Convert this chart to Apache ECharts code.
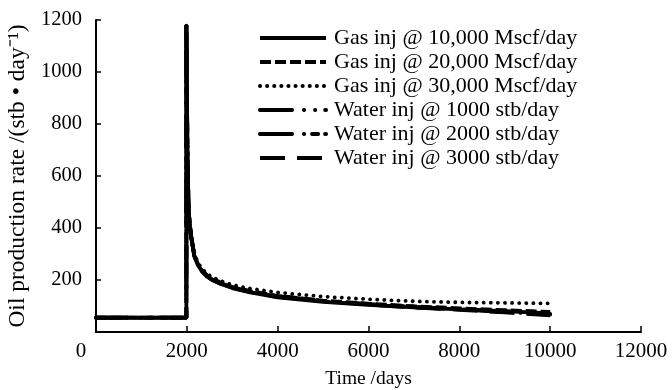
<!DOCTYPE html>
<html>
<head>
<meta charset="utf-8">
<script src="https://cdn.jsdelivr.net/npm/echarts@6/dist/echarts.min.js"></script>
<style>html,body{margin:0;padding:0;background:#fff;}#c{width:672px;height:390px;}</style>
</head>
<body>
<div id="c"></div>
<script>
var days = [0, 1990, 1990, 2002, 2020, 2045, 2090, 2165, 2240, 2340, 2440, 2560, 2720, 3000, 3400, 4000, 5000, 6000, 7000, 8000, 9000, 10000];
var gas10000 = [55, 55, 1180, 900, 600, 450, 370, 292, 258, 232, 214, 200, 187, 169, 152, 133, 116, 104, 95, 87, 80, 72];
var gas20000 = [55, 55, 1180, 905, 605, 455, 375, 297, 263, 237, 219, 205, 192, 173, 157, 139, 121, 109, 99, 91, 84, 77];
var gas30000 = [55, 55, 1180, 910, 610, 460, 380, 302, 268, 242, 225, 211, 198, 181, 167, 152, 136, 126, 118, 114, 112, 110];
var water1000 = [55, 55, 1180, 900, 602, 452, 372, 293, 259, 233, 215, 201, 188, 171, 154, 136, 119, 107, 97, 88, 79, 70];
var water2000 = [55, 55, 1180, 902, 603, 453, 373, 294, 260, 234, 216, 202, 189, 172, 155, 137, 120, 106, 96, 87, 77, 67];
var water3000 = [55, 55, 1180, 901, 601, 451, 371, 292, 258, 232, 214, 200, 187, 170, 153, 135, 118, 105, 94, 85, 75, 64];
var seriesNames = ['Gas inj @ 10,000 Mscf/day', 'Gas inj @ 20,000 Mscf/day', 'Gas inj @ 30,000 Mscf/day',
  'Water inj @ 1000 stb/day', 'Water inj @ 2000 stb/day', 'Water inj @ 3000 stb/day'];
var xTicks = [0, 2000, 4000, 6000, 8000, 10000, 12000];
var yTicks = [0, 200, 400, 600, 800, 1000, 1200];

function pairs(vals) { return days.map(function (d, i) { return [d, vals[i]]; }); }
var dashes = ['solid', [11, 4], [0.1, 7], [32, 12, 0.1, 11, 0.1, 10], [32, 12, 0.1, 8, 6, 7], [25, 12]];
var caps = ['butt', 'butt', 'round', 'round', 'round', 'butt'];
var widths = [3.8, 3.8, 3.8, 3.8, 3.8, 3.6];
var allVals = [gas10000, gas20000, gas30000, water1000, water2000, water3000];

var font = '"Liberation Serif", "Times New Roman", serif';
var chart = echarts.init(document.getElementById('c'), null, { renderer: 'canvas' });
chart.setOption({
  animation: false,
  backgroundColor: '#fff',
  textStyle: { fontFamily: font, color: '#000' },
  grid: { left: 96, right: 31, top: 20, bottom: 58, containLabel: false, outerBoundsMode: 'none' },
  legend: {
    orient: 'vertical', left: 258, top: 27, padding: 0,
    itemWidth: 66, itemHeight: 14, itemGap: 2, itemStyle: { opacity: 0 },
    lineStyle: { width: 4 },
    textStyle: { fontFamily: font, fontSize: 22, lineHeight: 20, color: '#000', padding: [0, 0, 0, 3] },
    data: seriesNames
  },
  xAxis: {
    type: 'value', min: xTicks[0], max: xTicks[xTicks.length - 1], interval: 2000,
    name: 'Time /days', nameLocation: 'middle', nameGap: 37,
    nameTextStyle: { fontFamily: font, fontSize: 19.5, color: '#000' },
    axisLine: { lineStyle: { color: '#000', width: 2 } },
    axisTick: { inside: true, length: 6, lineStyle: { color: '#000', width: 1.5 } },
    splitLine: { show: false },
    axisLabel: {
      margin: 9, fontFamily: font, fontSize: 21, color: '#000',
      formatter: function (v) { return v === 0 ? '{z|0}' : String(v); },
      rich: { z: { fontFamily: font, fontSize: 21, color: '#000', padding: [0, 30, 0, 0] } }
    }
  },
  yAxis: {
    type: 'value', min: yTicks[0], max: yTicks[yTicks.length - 1], interval: 200,
    name: 'Oil production rate /(stb \u2022 day\u207B\u00B9)', nameLocation: 'middle', nameGap: 61,
    nameTextStyle: { fontFamily: font, fontSize: 23.5, color: '#000' },
    axisLine: { lineStyle: { color: '#000', width: 2 } },
    axisTick: { inside: true, length: 5, lineStyle: { color: '#000', width: 1.5 } },
    splitLine: { show: false },
    axisLabel: { margin: 14, fontFamily: font, fontSize: 20.5, color: '#000', showMinLabel: false,
      formatter: function (v) { return v === 0 ? '' : String(v); } }
  },
  series: allVals.map(function (vals, i) {
    return {
      name: seriesNames[i], type: 'line', symbol: 'none', showSymbol: false,
      data: pairs(vals), z: 10 - i,
      lineStyle: { color: '#000', width: widths[i], type: dashes[i], cap: caps[i] },
      itemStyle: { color: '#000' }
    };
  })
});
</script>
</body>
</html>
